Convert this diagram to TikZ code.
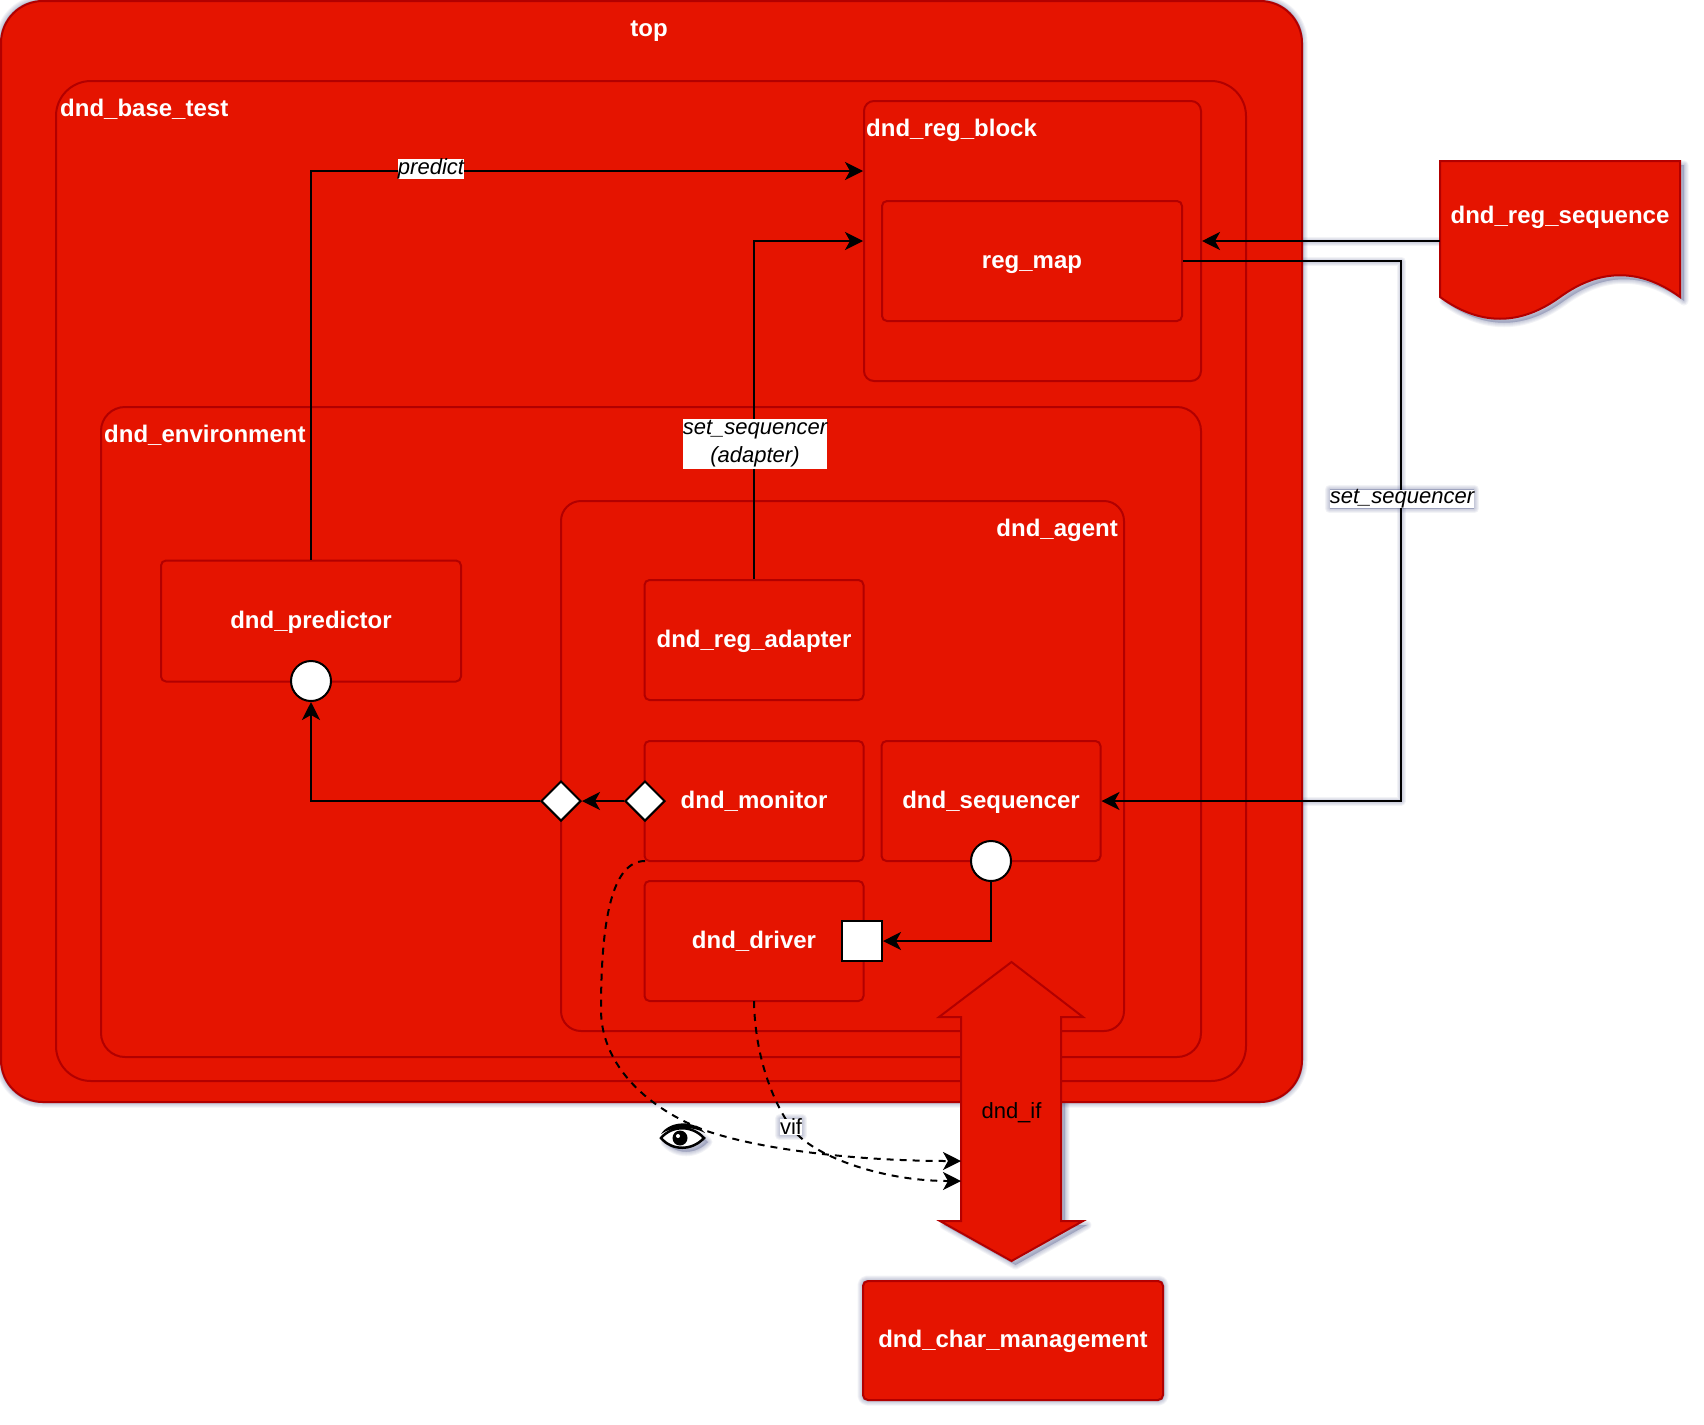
\documentclass[tikz,border=0pt]{standalone}
\usepackage{fontspec}
\setmainfont{Liberation Sans}
\usetikzlibrary{positioning,arrows.meta,backgrounds,shapes.geometric}
\definecolor{colorfill}  {RGB}{229,20 ,0  }
\definecolor{colorline}  {RGB}{178,0  ,0  }
\definecolor{colorshadow}{RGB}{60 ,70 ,125}
\newcommand{\blockArrow}{(1011.5,962) -- (1083,1017) -- (1061,1017) -- (1061,1221) -- (1083,1221) -- (1011.5,1261) -- (940,1221) -- (961,1221) -- (961,1017) -- (939,1017) -- cycle}
\newcommand{\regSeqShape}{(1440,161) -- (1680,161) -- (1680,297) .. controls (1640,268) and (1600,268) .. (1560,297) .. controls (1520,326) and (1480,326) .. (1440,297) -- cycle}
\newcommand{\eyeShape}{(661,1138) .. controls (672,1125) and (692,1125) .. (704,1138) .. controls (692,1151) and (672,1151) .. (661,1138) -- cycle}

\begin{document}
\begin{tikzpicture}[
    x=1pt, y=-1pt,
    >={Stealth[length=18pt,width=18pt,inset=5pt]},
    redBox/.style={draw=colorline,fill=colorfill,line width=2pt},
    block/.style={redBox,text=white,font={\fontsize{24}{28}\bfseries},text height=17pt,text depth=3pt,inner sep=0pt,rectangle,rounded corners=5pt},
    title/.style={text=white,font={\fontsize{24}{28}\bfseries},inner sep=0pt},
    txt/.style={text=black,font={\fontsize{22}{25}\selectfont},inner sep=0pt,align=center},
    note/.style={txt,fill=white,font={\fontsize{22}{28}\itshape}},
    port/.style={draw=black,fill=white,line width=2pt,inner sep=0pt,minimum size=40pt},
    wire/.style={draw=black,line width=2pt},
    curve/.style={wire,dash pattern=on 7pt off 6pt},
    soft/.style={draw=colorshadow,fill=colorshadow,opacity=.065,line join=round},
]
    \useasboundingbox (0,0) rectangle (1704,1424);

    % containers
    \node[redBox,rounded corners=42pt,minimum width=1301pt,minimum height=1101pt,anchor=north west] at (0,0) (top) {};
    \node[redBox,rounded corners=35pt,minimum width=1190pt,minimum height=1000pt,anchor=north west] at (55,80) (baseTest) {};
    \node[redBox,rounded corners=24pt,minimum width=1100pt,minimum height=650pt,anchor=north west] at (100,406) (environment) {};
    \node[redBox,rounded corners=10pt,minimum width=337pt,minimum height=280pt,anchor=north west] at (863,100) (regBlock) {};
    \node[redBox,rounded corners=20pt,minimum width=563pt,minimum height=530pt,anchor=north west] at (560,500) (agent) {};

    \node[title] at (649,31) (topName) {top};
    \node[title,anchor=base west] at (60,116) (baseTestName) {dnd\_base\_test};
    \node[title,anchor=base west] at (104,442) (environmentName) {dnd\_environment};
    \node[title,anchor=base west] at (866,136) (regBlockName) {dnd\_reg\_block};
    \node[title,anchor=base east] at (1118,536) (agentName) {dnd\_agent};

    % components
    \node[block,minimum width=300pt,minimum height=120pt] at (1032,261) (regMap) {reg\_map};
    \node[block,minimum width=300pt,minimum height=121pt] at (311,621) (predictor) {dnd\_predictor};
    \node[block,minimum width=219pt,minimum height=120pt] at (754,640) (regAdapter) {dnd\_reg\_adapter};
    \node[block,minimum width=219pt,minimum height=120pt] at (754,801) (monitor) {dnd\_monitor};
    \node[block,minimum width=219pt,minimum height=120pt] at (991,801) (sequencer) {dnd\_sequencer};
    \node[block,minimum width=219pt,minimum height=120pt] at (754,941) (driver) {dnd\_driver};
    \node[block,minimum width=300pt,minimum height=119pt] at (1013,1340.5) (charManagement) {dnd\_char\_management};

    % ports
    \node[port,circle] at (311,681) (predictorPort) {};
    \node[port,circle] at (991,861) (sequencerPort) {};
    \node[port,rectangle] at (862,941) (driverPort) {};
    \node[port,diamond,aspect=1] at (645,801) (monitorPort) {};
    \node[port,diamond,aspect=1] at (561,801) (agentPort) {};

    % interface and sequence
    \draw[redBox] \blockArrow;
    \node[txt] at (1011.5,1112.5) (ifName) {dnd\_if};
    \draw[redBox] \regSeqShape;
    \node[title,text height=17pt,text depth=3pt] at (1560,216) (regSeqName) {dnd\_reg\_sequence};
    \coordinate (regSeqOut) at (1440,241);
    \coordinate (regAdapterTurn) at (754,241);
    \coordinate (predictTurn) at (311,171);
    \coordinate (setTurn) at (1401,261);

    % connectors
    \draw[wire,->] (predictor.north) -- (predictTurn) -- (regBlock.west |- predictTurn);
    \draw[wire,->] (regAdapter.north) -- (regAdapterTurn) -- (regBlock.west |- regAdapterTurn);
    \draw[wire,->] (regSeqOut) -- (regBlock.east |- regSeqOut);
    \draw[wire,->] (regMap.east) -- (setTurn) |- (sequencer.east);
    \draw[wire,->] (monitorPort.west) -- (agentPort.east);
    \draw[wire,->] (agentPort.west) -| (predictorPort.south);
    \draw[wire,->] (sequencerPort.south) |- (driverPort.east);

    \coordinate (monitorTap) at (645,861);
    \coordinate (driverTap) at (754,1001);
    \coordinate (ifUpper) at (961,1161);
    \coordinate (ifLower) at (961,1181);
    \draw[curve,->] (monitorTap) .. controls (612,861) and (601,920) .. (601,1010)
        .. controls (601,1060) and (640,1105) .. (704,1130)
        .. controls (760,1150) and (860,1161) .. (ifUpper);
    \draw[curve,->] (driverTap) .. controls (755,1060) and (775,1105) .. (791,1127)
        .. controls (810,1155) and (880,1181) .. (ifLower);

    \node[note] at (431,169) (predictName) {predict};
    \node[note,inner ysep=2pt] at (755,444) (adapterName) {set\_sequencer\\(adapter)};
    \node[note] at (1402,499) (setName) {set\_sequencer};
    \node[txt,fill=white] at (791,1127) (vifName) {vif};

    % eye
    \draw[black,fill=white,line width=2.5pt] \eyeShape;
    \fill[black] (661,1134) .. controls (670,1120) and (695,1120) .. (705,1133) .. controls (693,1126) and (672,1126) .. (661,1134) -- cycle;
    \fill[black] (680,1138) circle (7.5pt);
    \fill[white] (678,1136) circle (2pt);

    % shadows
    \begin{scope}[on background layer,xshift=4pt,yshift=-4pt]
        \foreach \w in {1,3,5,7,9}{
            \path[soft,line width=\w pt,rounded corners=42pt] (top.north west) rectangle (top.south east);
            \path[soft,line width=\w pt,rounded corners=5pt] (charManagement.north west) rectangle (charManagement.south east);
            \path[soft,line width=\w pt] \blockArrow;
            \path[soft,line width=\w pt] \regSeqShape;
            \path[soft,line width=\w pt] \eyeShape;
            \path[soft,line width=\w pt] (setName.north west) rectangle (setName.south east);
            \path[soft,line width=\w pt] (vifName.north west) rectangle (vifName.south east);
            \path[soft,fill=none,line width=\w pt] (regSeqOut) -- (regBlock.east |- regSeqOut);
            \path[soft,fill=none,line width=\w pt] (regMap.east) -- (setTurn) |- (sequencer.east);
        }
    \end{scope}
\end{tikzpicture}
\end{document}
